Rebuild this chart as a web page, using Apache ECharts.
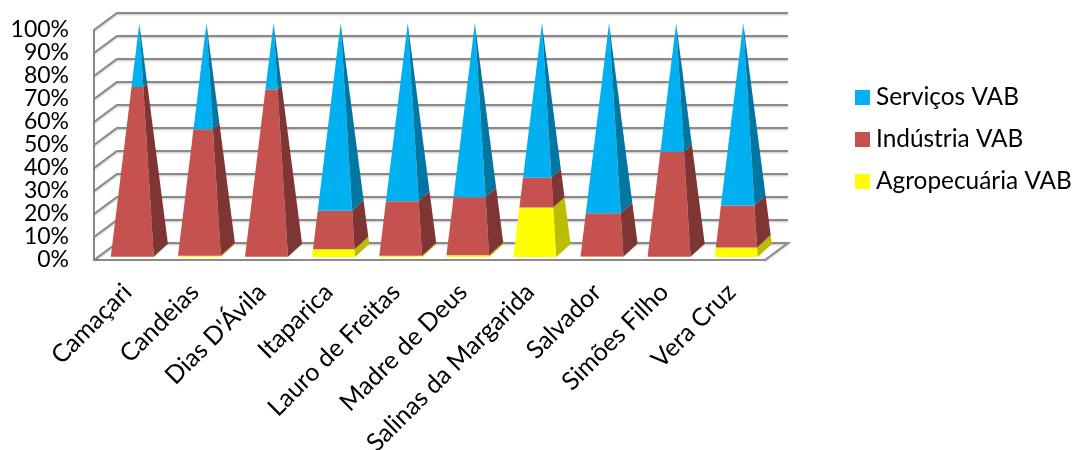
<!DOCTYPE html>
<html>
<head>
<meta charset="utf-8">
<style>html,body{margin:0;padding:0;background:#fff}#chart{width:1077px;height:450px}</style>
<script src="https://cdn.jsdelivr.net/npm/echarts@6/dist/echarts.min.js"></script>
</head>
<body>
<div id="chart"></div>
<script>
// Participação setorial no VAB por município (%)
var municipios = ['Camaçari','Candeias',"Dias D'Ávila",'Itaparica','Lauro de Freitas','Madre de Deus','Salinas da Margarida','Salvador','Simões Filho','Vera Cruz'];
var agropecuaria = [0.1, 0.5, 0.1, 3.3, 0.5, 0.7, 21.2, 0.2, 0.1, 4.1];
var industria    = [72.5, 54.1, 71.5, 16.5, 23.3, 24.8, 12.7, 18.5, 44.9, 17.9];
var servicos     = [27.4, 45.4, 28.4, 80.2, 76.2, 74.5, 66.1, 81.3, 55.0, 78.0];
var ticks = [0,10,20,30,40,50,60,70,80,90,100];

var FONT = 'Lato, "Open Sans", sans-serif';
var WALL = '#8a8a8a';
// Deslocamento da parede do fundo em relação ao plano frontal
var DEPTH_X = 23, DEPTH_Y = -17;

function lerp(a, b, t) { return [a[0] + (b[0]-a[0])*t, a[1] + (b[1]-a[1])*t]; }

// Trecho de pirâmide entre duas frações da altura: face frontal e face lateral
function pyramidSegment(colorFront, colorSide) {
  return function (params, api) {
    var base = api.coord([api.value(0), 0]);
    var t0 = api.value(1) / 100, t1 = api.value(2) / 100;
    var cx = base[0] + 4.7, y0 = base[1];
    var fl = [cx - 21.5, y0 - 3], fr = [cx + 21.5, y0 - 3];
    var br = [fr[0] + 14.2, y0 - 16];
    var apex = [cx + 7.1, y0 - 237];
    return {
      type: 'group',
      children: [
        { type: 'polygon', shape: { points: [lerp(fl,apex,t0), lerp(fr,apex,t0), lerp(fr,apex,t1), lerp(fl,apex,t1)] },
          style: { fill: colorFront } },
        { type: 'polygon', shape: { points: [lerp(fr,apex,t0), lerp(br,apex,t0), lerp(br,apex,t1), lerp(fr,apex,t1)] },
          style: { fill: colorSide } }
      ]
    };
  };
}

// Linhas de grade nas paredes lateral e do fundo, e contorno do piso
function wallLines(params, api) {
  var v = api.value(1);
  var cs = params.coordSys;
  var p = api.coord([0, v]);
  var x0 = cs.x, y = p[1];
  var st = { stroke: WALL, lineWidth: 2, fill: null, shadowBlur: 2, shadowColor: 'rgba(0,0,0,0.25)', shadowOffsetY: 1 };
  var pts = [[x0, y], [x0 + DEPTH_X, y + DEPTH_Y], [x0 + cs.width + DEPTH_X, y + DEPTH_Y]];
  if (v === 0) pts.push([x0 + cs.width, y]);
  return { type: 'polyline', shape: { points: pts }, style: st };
}

function segmentData(lower, values) {
  return municipios.map(function (_, i) { return [i, lower[i], lower[i] + values[i]]; });
}
var zeros = municipios.map(function () { return 0; });
var ateAgro = agropecuaria.slice();
var ateInd = agropecuaria.map(function (v, i) { return v + industria[i]; });

function pyramidSeries(name, color, side, data) {
  return {
    type: 'custom', name: name, clip: false, z: 5,
    itemStyle: { color: color },
    renderItem: pyramidSegment(color, side),
    encode: { x: 0, y: [1, 2] },
    data: data
  };
}

var chart = echarts.init(document.getElementById('chart'), null, { renderer: 'canvas' });
chart.setOption({
  animation: false,
  backgroundColor: '#ffffff',
  textStyle: { fontFamily: FONT },
  grid: { left: 94, right: 312, top: 30, bottom: 190, containLabel: false, outerBoundsMode: 'none' },
  xAxis: {
    type: 'category', data: municipios,
    axisTick: { show: false },
    axisLine: { lineStyle: { color: WALL, width: 2 } },
    axisLabel: { rotate: 45, interval: 0, margin: 28, fontSize: 25, color: '#000', fontFamily: FONT }
  },
  yAxis: {
    type: 'value', min: 0, max: 100, interval: 10,
    splitLine: { show: false },
    axisTick: { show: false },
    axisLine: { show: true, lineStyle: { color: WALL, width: 2 } },
    axisLabel: { formatter: '{value}%', margin: 25, fontSize: 23, color: '#000', fontFamily: FONT, padding: [3, 0, 0, 0], showMinLabel: true, showMaxLabel: true, hideOverlap: false }
  },
  legend: {
    orient: 'vertical', left: 855, top: 84, padding: 0,
    data: ['Serviços VAB', 'Indústria VAB', 'Agropecuária VAB'],
    itemWidth: 15, itemHeight: 15, itemGap: 15, icon: 'rect',
    selectedMode: false,
    textStyle: { fontSize: 24.4, color: '#000', fontFamily: FONT, padding: [0, 0, 0, 1], lineHeight: 27 }
  },
  series: [
    { type: 'custom', name: 'paredes', clip: false, z: 1, silent: true,
      renderItem: wallLines, encode: { x: 0, y: 1 },
      data: ticks.map(function (v) { return [0, v]; }) },
    pyramidSeries('Agropecuária VAB', '#ffff00', '#bdbd00', segmentData(zeros, agropecuaria)),
    pyramidSeries('Indústria VAB', '#c5524f', '#7f3533', segmentData(ateAgro, industria)),
    pyramidSeries('Serviços VAB', '#00b0f0', '#0077a3', segmentData(ateInd, servicos))
  ]
});
</script>
</body>
</html>
